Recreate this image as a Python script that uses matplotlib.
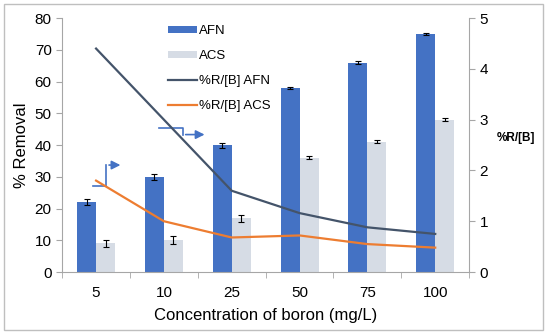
import matplotlib.pyplot as plt
import numpy as np
from matplotlib.patches import Rectangle

plt.rcParams['font.family'] = ['Liberation Sans', 'DejaVu Sans']

# data
conc = ['5', '10', '25', '50', '75', '100']
afn = [22, 30, 40, 58, 66, 75]
afn_err = [1.0, 1.0, 0.8, 0.4, 0.4, 0.3]
acs = [9, 10, 17, 36, 41, 48]
acs_err = [1.0, 1.2, 1.1, 0.5, 0.5, 0.5]
ratio_afn = [4.4, 3.0, 1.6, 1.16, 0.88, 0.75]
ratio_acs = [1.8, 1.0, 0.68, 0.72, 0.55, 0.48]

C_AFN = '#4472C4'
C_ACS = '#D6DCE5'
C_LAFN = '#44546A'
C_LACS = '#ED7D31'
GREY = '#A6A6A6'

fig = plt.figure(figsize=(5.5, 3.35), dpi=100)
ax = fig.add_axes([0.113, 0.188, 0.74, 0.758])
ax2 = ax.twinx()

x = np.arange(len(conc))
w = 0.28
ekw = dict(ecolor='black', elinewidth=0.8, capsize=2.5, capthick=0.8)
b1 = ax.bar(x - w / 2, afn, w, yerr=afn_err, color=C_AFN, error_kw=ekw, label='AFN', zorder=2)
b2 = ax.bar(x + w / 2, acs, w, yerr=acs_err, color=C_ACS, error_kw=ekw, label='ACS', zorder=2)

l1, = ax2.plot(x, ratio_afn, color=C_LAFN, lw=1.6, label='%R/[B] AFN')
l2, = ax2.plot(x, ratio_acs, color=C_LACS, lw=1.6, label='%R/[B] ACS')

ax.set_xlim(-0.5, len(conc) - 0.5)
ax.set_ylim(0, 80)
ax2.set_ylim(0, 5)
ax.set_yticks(range(0, 81, 10))
ax2.set_yticks(range(0, 6))
ax.set_xticks(x)
ax.set_xticklabels(conc)
ax.set_xticks(np.arange(-0.5, len(conc)), minor=True)
ax.tick_params(axis='x', which='major', length=0, pad=10, labelsize=11)
ax.tick_params(axis='x', which='minor', length=4, color=GREY, direction='out')
ax.tick_params(axis='y', length=4, color=GREY, labelsize=11)
ax2.tick_params(axis='y', length=4, color=GREY, labelsize=11)

for a in (ax, ax2):
    a.spines['top'].set_visible(False)
    for s in ('left', 'right', 'bottom'):
        a.spines[s].set_color(GREY)
ax2.spines['left'].set_visible(False)
ax2.spines['bottom'].set_visible(False)
ax.spines['right'].set_visible(False)

ax.set_xlabel('Concentration of boron (mg/L)', fontsize=12, labelpad=6)
ax.set_ylabel('% Removal', fontsize=12, labelpad=4)
ax2.set_ylabel('%R/[B]', fontsize=8.5, fontweight='bold', rotation=0)
ax2.yaxis.set_label_coords(1.115, 0.55)

ax.legend([b1, b2, l1, l2], ['AFN', 'ACS', '%R/[B] AFN', '%R/[B] ACS'],
          loc='upper left', bbox_to_anchor=(0.23, 1.02), frameon=False,
          fontsize=9.5, handlelength=2.2, handleheight=0.4, labelspacing=1.0,
          handletextpad=0.2)

# blue arrows pointing to the right axis
arrow = dict(arrowstyle='-|>', color=C_AFN, lw=1.2, mutation_scale=13)
ax.plot([-0.05, 0.15, 0.15], [27, 27, 33.7], color=C_AFN, lw=1.2)
ax.annotate('', xy=(0.40, 33.7), xytext=(0.15, 33.7), arrowprops=arrow)
ax.plot([0.93, 1.28, 1.28], [45.3, 45.3, 43.3], color=C_AFN, lw=1.2)
ax.annotate('', xy=(1.64, 43.3), xytext=(1.28, 43.3), arrowprops=arrow)

fig.patches.append(Rectangle((0.008, 0.015), 0.98, 0.972, transform=fig.transFigure,
                             fill=False, edgecolor='#BFBFBF', lw=1))

fig.savefig('out.png', dpi=100)
